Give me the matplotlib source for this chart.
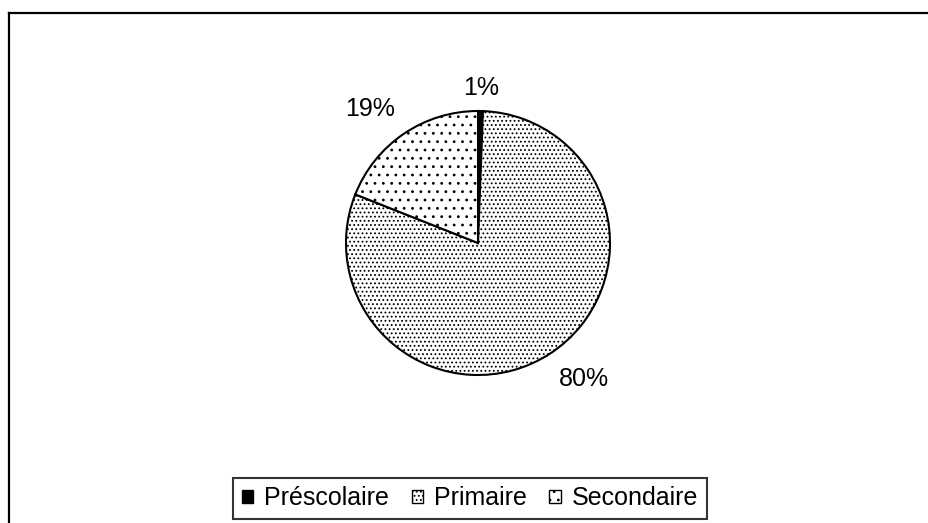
import numpy as np
import matplotlib.pyplot as plt
from matplotlib.lines import Line2D
from matplotlib.patches import Patch

plt.rcParams['font.family'] = ['Liberation Sans', 'DejaVu Sans']
plt.rcParams['hatch.linewidth'] = 0.8

# Répartition des élèves par niveau
categories = ["Préscolaire", "Primaire", "Secondaire"]
shares = [0.6, 80.4, 19.0]
hatches = ["", "....", ".."]
face_colors = ["black", "white", "white"]

W, H = 929, 523
fig = plt.figure(figsize=(W / 100, H / 100), dpi=100)

# pie area in pixel coords: centre (478, 243), radius 132
cx, cy, r = 478, 243, 132
ax = fig.add_axes([(cx - r) / W, (H - cy - r) / H, 2 * r / W, 2 * r / H])
wedges, _ = ax.pie(
    shares,
    startangle=90,
    counterclock=False,
    colors=face_colors,
    radius=1,
    wedgeprops=dict(edgecolor='black', linewidth=1.5),
)
for w, h in zip(wedges, hatches):
    w.set_hatch(h)

# percentage labels just outside the rim, anchored like Excel's outside-end labels
total = sum(shares)
for w, v in zip(wedges, shares):
    ang = np.deg2rad((w.theta1 + w.theta2) / 2)
    x, y = 1.12 * np.cos(ang), 1.12 * np.sin(ang)
    if abs(np.cos(ang)) < 0.2:
        ha = 'center'
        y -= 0.04
    else:
        ha = 'left' if x > 0 else 'right'
    va = 'bottom' if y > 0 else 'top'
    ax.text(x, y, f"{v / total * 100:.0f}%", ha=ha, va=va, fontsize=18)

ax.set_xlim(-1, 1)
ax.set_ylim(-1, 1)
ax.set_aspect('auto')
ax.axis('off')

handles = [Patch(facecolor=c, edgecolor='black', hatch=h, linewidth=1)
           for c, h in zip(face_colors, hatches)]
leg = fig.legend(
    handles, categories,
    loc='lower center',
    bbox_to_anchor=(470 / W, 4 / H),
    ncol=3,
    fontsize=18,
    frameon=True,
    fancybox=False,
    edgecolor='black',
    handlelength=0.45,
    handleheight=0.45,
    handletextpad=0.45,
    columnspacing=0.9,
    borderpad=0.35,
    borderaxespad=0,
)
leg.get_frame().set_linewidth(1.5)

# chart area border (left and top edges visible)
x0, y0 = 9.5 / W, 1 - 13 / H
fig.add_artist(Line2D([x0, x0], [0, y0], transform=fig.transFigure, color='black', linewidth=1.6))
fig.add_artist(Line2D([x0, 1], [y0, y0], transform=fig.transFigure, color='black', linewidth=1.6))

fig.savefig("out.png", dpi=100)
